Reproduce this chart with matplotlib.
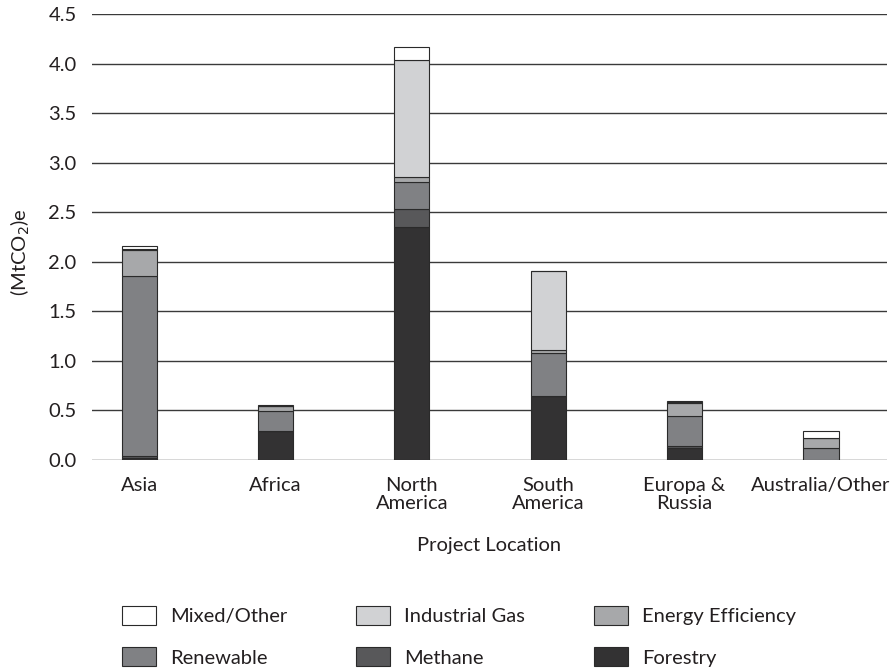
import matplotlib
matplotlib.use("Agg")
import matplotlib.pyplot as plt
import numpy as np
from matplotlib.patches import Patch

plt.rcParams['font.family'] = ['Lato', 'DejaVu Sans']

categories = ["Asia", "Africa", "North\nAmerica", "South\nAmerica", "Europa &\nRussia", "Australia/Other"]
series_names = ["Forestry", "Methane", "Renewable", "Energy Efficiency", "Industrial Gas", "Mixed/Other"]
forestry          = [0.02, 0.29, 2.35, 0.65, 0.12, 0.00]
methane           = [0.02, 0.00, 0.18, 0.00, 0.02, 0.00]
renewable         = [1.82, 0.20, 0.27, 0.43, 0.30, 0.12]
energy_efficiency = [0.26, 0.05, 0.06, 0.03, 0.14, 0.10]
industrial_gas    = [0.01, 0.00, 1.18, 0.80, 0.01, 0.00]
mixed_other       = [0.03, 0.01, 0.13, 0.00, 0.01, 0.07]
yticks = [0.0, 0.5, 1.0, 1.5, 2.0, 2.5, 3.0, 3.5, 4.0, 4.5]

colors = {
    "Forestry": "#333233",
    "Methane": "#58585a",
    "Renewable": "#808184",
    "Energy Efficiency": "#a7a8aa",
    "Industrial Gas": "#d1d2d4",
    "Mixed/Other": "#ffffff",
}
data = [forestry, methane, renewable, energy_efficiency, industrial_gas, mixed_other]

FS = 14.5
TXT = "#231f20"

fig = plt.figure(figsize=(8.93, 6.70), dpi=100)
ax = fig.add_axes([92/893, 1-460/670, (887-92)/893, (460-14)/670])

x = np.arange(len(categories))
bottom = np.zeros(len(categories))
for name, vals in zip(series_names, data):
    v = np.array(vals)
    ax.bar(x, v, width=0.257, bottom=bottom, color=colors[name],
           edgecolor="#2a2a2a", linewidth=0.8, zorder=3)
    bottom += v

ax.set_ylim(0, 4.5)
ax.set_xlim(-0.345, 5.484)
ax.set_yticks(yticks)
ax.set_yticklabels([f"{t:.1f}" for t in yticks], fontsize=FS, color=TXT)
ax.set_xticks(x)
ax.set_xticklabels(categories, fontsize=FS, color=TXT, linespacing=1.12)
ax.tick_params(axis='both', length=0)
ax.tick_params(axis='y', pad=11)
ax.tick_params(axis='x', pad=12)
for s in ax.spines.values():
    s.set_visible(False)
for t in yticks:
    ax.axhline(t, color="#3a3a3a", linewidth=1.0, zorder=1)

ax.set_xlabel("Project Location", fontsize=FS, color=TXT, labelpad=18)
fig.text(20/893, 1-252/670, "(MtCO$_2$)e", rotation=90, fontsize=FS,
         color=TXT, ha="center", va="center")

order = ["Mixed/Other", "Renewable", "Industrial Gas", "Methane", "Energy Efficiency", "Forestry"]
handles = [Patch(facecolor=colors[n], edgecolor="#2a2a2a", linewidth=0.8) for n in order]
fig.legend(handles, order, loc="upper left", bbox_to_anchor=(122/893, 1-606/670),
           ncol=3, frameon=False, fontsize=FS, handlelength=1.7, handleheight=1.05,
           handletextpad=0.7, columnspacing=3.4, labelspacing=1.1, borderpad=0,
           borderaxespad=0, labelcolor=TXT)

fig.savefig("out.png", dpi=100)
